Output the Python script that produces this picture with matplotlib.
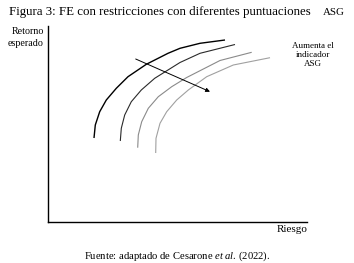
import matplotlib
matplotlib.use("Agg")
import matplotlib.pyplot as plt

plt.rcParams['font.family'] = ['Liberation Serif', 'DejaVu Serif']
plt.rcParams['mathtext.fontset'] = 'custom'
plt.rcParams['mathtext.rm'] = 'Liberation Serif'
plt.rcParams['mathtext.it'] = 'Liberation Serif:italic'

# efficient frontiers (riesgo, retorno)
riesgo_1 = [46, 47.3, 51.7, 58.3, 68.3, 80, 98.3, 120, 132, 152, 177]
retorno_1 = [84, 97, 110.3, 122, 133.7, 145.3, 157.7, 168.7, 173.7, 178.7, 182]
riesgo_2 = [72.3, 73.3, 76.7, 83.3, 93.3, 106.7, 120, 132, 152, 187]
retorno_2 = [81, 93.7, 107, 120.3, 132, 143.7, 152, 159.5, 168.7, 177.5]
riesgo_3 = [89.7, 90.3, 93.7, 100.3, 110.3, 123.7, 138.7, 172, 203.7]
retorno_3 = [74.3, 87, 100.3, 113.7, 125.3, 135.3, 144.5, 161.5, 169.7]
riesgo_4 = [107.7, 108, 112, 118.7, 128.7, 140.3, 158.7, 185.3, 222]
retorno_4 = [69, 83.7, 98.7, 110.3, 122, 132, 145.3, 157, 164.3]

FRONTERAS = [(riesgo_1, retorno_1), (riesgo_2, retorno_2),
             (riesgo_3, retorno_3), (riesgo_4, retorno_4)]
COLORES = ['#000000', '#2a2a2a', '#8a8a8a', '#a0a0a0']
ANCHOS = [1.0, 0.8, 0.8, 0.8]

flecha_ini = (87.7, 163)
flecha_fin = (162, 130.3)

W, H = 354, 263
fig = plt.figure(figsize=(W / 100, H / 100), dpi=100)
ax = fig.add_axes([48 / W, 1 - 222 / H, (307 - 48) / W, (222 - 26) / H])

for (rx, ry), c, lw in zip(FRONTERAS, COLORES, ANCHOS):
    ax.plot(rx, ry, color=c, linewidth=lw, solid_capstyle='butt',
            solid_joinstyle='round')

ax.annotate('', xy=flecha_fin, xytext=flecha_ini,
            arrowprops=dict(arrowstyle='-|>', color='black', lw=0.7,
                            mutation_scale=6, shrinkA=0, shrinkB=0))

ax.set_xlim(0, 259)
ax.set_ylim(0, 196)
ax.set_xticks([])
ax.set_yticks([])
for s in ['top', 'right']:
    ax.spines[s].set_visible(False)
for s in ['left', 'bottom']:
    ax.spines[s].set_linewidth(1.0)

# texts
fig.text(9 / W, 1 - 15 / H, 'Figura 3: FE con restricciones con diferentes puntuaciones',
         fontsize=9.25, ha='left', va='baseline')
fig.text(345 / W, 1 - 15 / H, 'ASG', fontsize=7.8, ha='right', va='baseline')

fig.text(44 / W, 1 - 32 / H, 'Retorno', fontsize=7.2, ha='right', va='center')
fig.text(44 / W, 1 - 44 / H, 'esperado', fontsize=7.2, ha='right', va='center')
fig.text(292 / W, 1 - 230 / H, 'Riesgo', fontsize=8, ha='center', va='center')
fig.text(313 / W, 1 - 55 / H, 'Aumenta el\nindicador\nASG', fontsize=6.5, ha='center',
         va='center', linespacing=1.1)
fig.text(177 / W, 1 - 256 / H, 'Fuente: adaptado de Cesarone $\\mathit{et\\ al}$. (2022).',
         fontsize=7.7, ha='center', va='center')

fig.savefig('out.png', dpi=100)
